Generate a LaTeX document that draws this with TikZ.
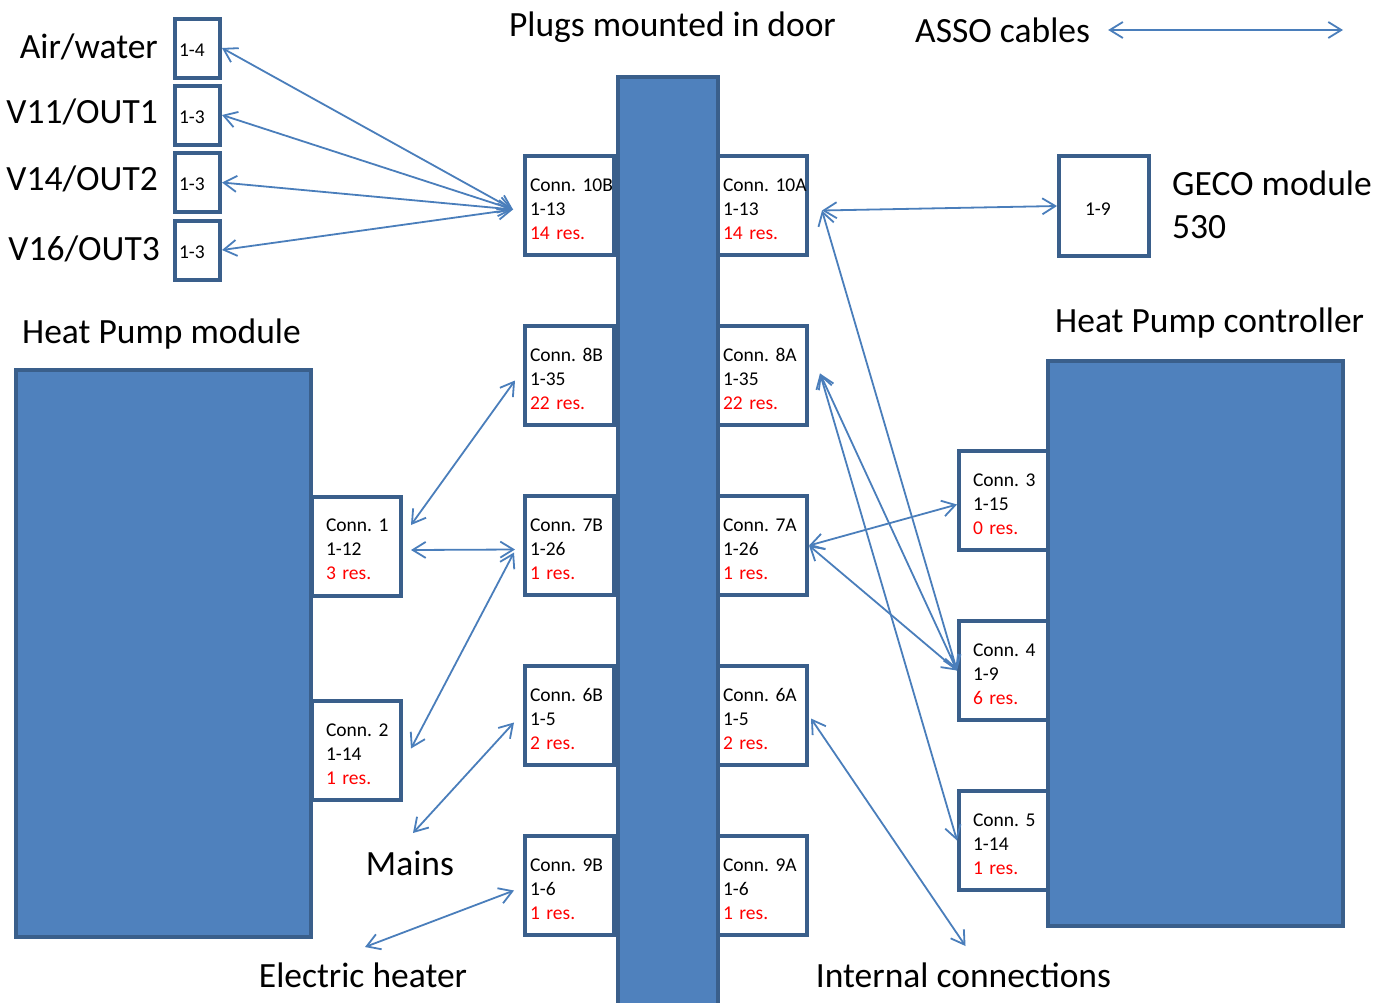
\documentclass[tikz,border=0pt]{standalone}
\usepackage{fontspec}
\setmainfont{Carlito}
\usepackage{tikz}
\usetikzlibrary{arrows.meta}
\frenchspacing

\definecolor{boxfill}{HTML}{4F81BD}
\definecolor{boxedge}{HTML}{3A5F8B}
\definecolor{cablecol}{HTML}{4A7EBB}
\definecolor{resred}{HTML}{FF0000}

% connector text: name, pins, reserve
\newcommand{\plugtext}[3]{Conn.~#1\\#2\\\textcolor{resred}{#3~res.}}

\begin{document}
\begin{tikzpicture}[x=1pt, y=-1pt,
	plug/.style={rectangle, draw=boxedge, line width=4pt, fill=white, minimum width=89pt, minimum height=99pt, inner xsep=5pt, text width=79pt, align=left, text height=20pt, font=\fontsize{19.5}{24}\selectfont},
	sideplug/.style={plug, inner xsep=14pt, text width=61pt},
	pin/.style={rectangle, draw=boxedge, line width=4pt, fill=white, minimum width=45pt, minimum height=59pt, inner xsep=4pt, text width=37pt, align=left, text height=16pt, text depth=0pt, font=\fontsize{19.5}{24}\selectfont},
	block/.style={rectangle, draw=boxedge, line width=4pt, fill=boxfill, inner sep=0pt},
	caption/.style={inner sep=0pt, font=\fontsize{35.5}{43}\selectfont},
	cable/.style={draw=cablecol, line width=1.8pt, {Straight Barb[length=13pt,width=16pt]}-{Straight Barb[length=13pt,width=16pt]}}]
\useasboundingbox (0,0) rectangle (1378,1002);

% titles
\node (door) at (672.5,36) [caption, anchor=base] {Plugs mounted in door};
\node (asso) at (915,42) [caption, anchor=base west] {ASSO cables};
\coordinate (assoend) at (1343,30);
\node (hpm) at (22,343) [caption, anchor=base west] {Heat Pump module};
\node (hpc) at (1055,332) [caption, anchor=base west] {Heat Pump controller};
\node (gecot) at (1172,238) [caption, anchor=base west, align=left] {GECO module\\530};
\node (mains) at (410,875) [caption, anchor=base] {Mains};
\node (heater) at (363,987) [caption, anchor=base] {Electric heater};
\node (internal) at (963.5,987) [caption, anchor=base] {Internal connections};

% sensor pins, top left
\node (aw) at (197.5,48) [pin] {1-4};
\node (v11) at (197.5,115) [pin] {1-3};
\node (v14) at (197.5,182.5) [pin] {1-3};
\node (v16) at (197.5,250) [pin] {1-3};
\node (awt) at (158,58) [caption, anchor=base east] {Air/water};
\node (v11t) at (158,123) [caption, anchor=base east] {V11/OUT1};
\node (v14t) at (158,190) [caption, anchor=base east] {V14/OUT2};
\node (v16t) at (160,260) [caption, anchor=base east] {V16/OUT3};

\node (geco) at (1104,206) [pin, minimum width=90pt, minimum height=100pt, inner xsep=26pt, text width=38pt, text height=18pt] {1-9};

% modules
\node (hpmbox) at (163.5,653.5) [block, minimum width=295pt, minimum height=567pt] {};
\node (hpcbox) at (1195.5,643.5) [block, minimum width=295pt, minimum height=565pt] {};

\node (c1) at (356.5,546) [sideplug] {\plugtext{1}{1-12}{3}};
\node (c2) at (356.5,750.5) [sideplug] {\plugtext{2}{1-14}{1}};
\node (c3) at (1003.5,500.5) [sideplug] {\plugtext{3}{1-15}{0}};
\node (c4) at (1003.5,670.5) [sideplug] {\plugtext{4}{1-9}{6}};
\node (c5) at (1003.5,840.5) [sideplug] {\plugtext{5}{1-14}{1}};

% door plugs, B side and A side
\node (c10b) at (569.5,205.5) [plug] {\plugtext{10B}{1-13}{14}};
\node (c8b) at (569.5,375.5) [plug] {\plugtext{8B}{1-35}{22}};
\node (c7b) at (569.5,545.5) [plug] {\plugtext{7B}{1-26}{1}};
\node (c6b) at (569.5,715.5) [plug] {\plugtext{6B}{1-5}{2}};
\node (c9b) at (569.5,885.5) [plug] {\plugtext{9B}{1-6}{1}};

\node (c10a) at (762.5,205.5) [plug] {\plugtext{10A}{1-13}{14}};
\node (c8a) at (762.5,375.5) [plug] {\plugtext{8A}{1-35}{22}};
\node (c7a) at (762.5,545.5) [plug] {\plugtext{7A}{1-26}{1}};
\node (c6a) at (762.5,715.5) [plug] {\plugtext{6A}{1-5}{2}};
\node (c9a) at (762.5,885.5) [plug] {\plugtext{9A}{1-6}{1}};

\node (bar) at (668,541) [block, minimum width=100pt, minimum height=928pt] {};

% cables
\draw[cable] ([shift={(18,-12)}]asso.base east) -- (assoend);

\draw[cable] (aw.east) -- ([shift={(-10,4)}]c10b.west);
\draw[cable] (v11.east) -- ([shift={(-10,4)}]c10b.west);
\draw[cable] (v14.east) -- ([shift={(-10,4)}]c10b.west);
\draw[cable] (v16.east) -- ([shift={(-10,4)}]c10b.west);

\draw[cable] ([shift={(8,-21)}]c1.east) -- ([shift={(-8,5)}]c8b.west);
\draw[cable] ([shift={(8,4)}]c1.east) -- ([shift={(-8,4)}]c7b.west);
\draw[cable] ([shift={(8,-2)}]c2.east) -- ([shift={(-9,7)}]c7b.west);
\draw[cable] ([shift={(3,-42)}]mains.base) -- ([shift={(-9,7)}]c6b.west);
\draw[cable] ([shift={(2,-40)}]heater.base) -- ([shift={(-9,5)}]c9b.west);

\draw[cable] ([shift={(13,5)}]c10a.east) -- (geco.west);
\draw[cable] ([shift={(13,5)}]c10a.east) -- (c4.west);
\draw[cable] ([shift={(11,-2)}]c8a.east) -- (c4.west);
\draw[cable] ([shift={(11,-2)}]c8a.east) -- (c5.west);
\draw[cable] (c7a.east) -- ([shift={(0,4)}]c3.west);
\draw[cable] (c7a.east) -- (c4.west);
\draw[cable] ([shift={(2,3)}]c6a.east) -- ([shift={(2,-41)}]internal.base);
\end{tikzpicture}
\end{document}
